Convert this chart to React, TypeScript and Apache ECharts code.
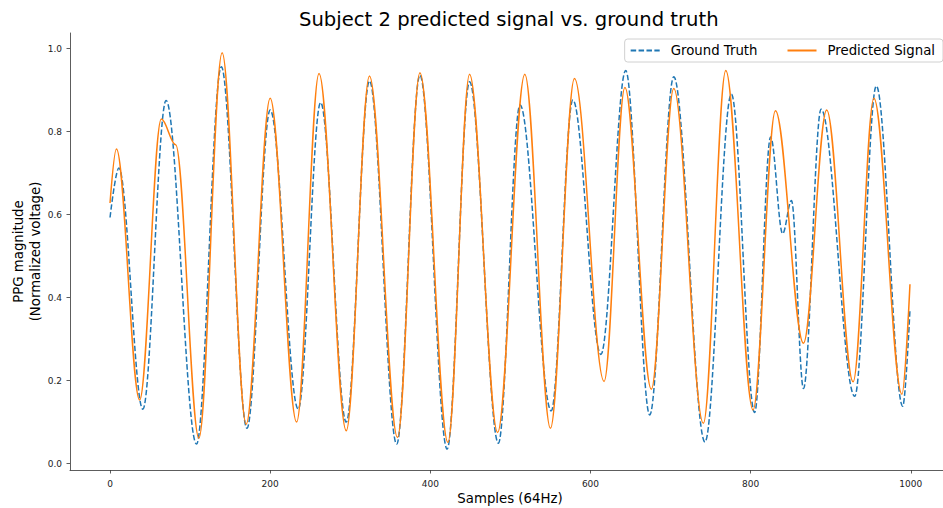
import React, { useEffect, useRef } from "react";
import * as echarts from "echarts";

// Ground truth extrema
const gtX = [0, 11, 41, 70, 108, 139, 171, 200, 235, 263, 295, 324, 358, 387, 421, 449, 485, 512, 551, 578, 613, 644, 674, 704, 743, 776, 805, 825, 840, 851, 866, 888, 930, 957, 990, 999];
const gtY = [0.593, 0.712, 0.131, 0.875, 0.047, 0.956, 0.085, 0.852, 0.131, 0.87, 0.1, 0.922, 0.047, 0.936, 0.035, 0.92, 0.049, 0.864, 0.127, 0.876, 0.263, 0.947, 0.117, 0.932, 0.052, 0.89, 0.123, 0.787, 0.554, 0.634, 0.181, 0.854, 0.162, 0.91, 0.138, 0.371];

// Predicted signal extrema
const predX = [0, 8, 37, 64, 82, 111, 140, 170, 200, 233, 261, 295, 324, 359, 387, 422, 449, 484, 518, 550, 580, 617, 643, 676, 704, 741, 769, 803, 831, 866, 895, 928, 954, 989, 999];
const predY = [0.628, 0.758, 0.153, 0.83, 0.768, 0.061, 0.99, 0.095, 0.88, 0.1, 0.94, 0.079, 0.934, 0.063, 0.942, 0.051, 0.938, 0.075, 0.938, 0.085, 0.928, 0.198, 0.906, 0.179, 0.904, 0.097, 0.947, 0.129, 0.85, 0.29, 0.852, 0.197, 0.88, 0.167, 0.432];

const xTicks = [0, 200, 400, 600, 800, 1000];
const yTicks = [0, 0.2, 0.4, 0.6, 0.8, 1.0];

const seriesNames = ["Ground Truth", "Predicted Signal"];
const titleText = "Subject 2 predicted signal vs. ground truth";
const xName = "Samples (64Hz)";
const yName = "PPG magnitude\n(Normalized voltage)";

const FONT = "DejaVu Sans";

export default function App() {
  const ref = useRef<HTMLDivElement>(null);
  useEffect(() => {
    if (!ref.current) return;
    const chart = echarts.init(ref.current, undefined, { renderer: "svg" });
    const gtData = gtX.map((x, i) => [x, gtY[i]]);
    const predData = predX.map((x, i) => [x, predY[i]]);
    chart.setOption({
      animation: false,
      backgroundColor: "#ffffff",
      textStyle: { fontFamily: FONT },
      title: {
        text: titleText,
        left: 299,
        top: 9,
        padding: 0,
        textStyle: { fontFamily: FONT, fontSize: 19.6, fontWeight: "normal", color: "#000" },
      },
      legend: {
        right: 0,
        top: 39,
        padding: [5, 8, 5, 5],
        itemWidth: 29,
        itemHeight: 14,
        itemGap: 29,
        borderColor: "#d0d0d0",
        borderWidth: 1,
        borderRadius: 3,
        backgroundColor: "rgba(255,255,255,0.8)",
        itemStyle: { opacity: 0 },
        textStyle: { fontFamily: FONT, fontSize: 13.3, color: "#000", padding: [0, 0, 0, 6] },
        data: seriesNames,
      },
      grid: {
        left: 70,
        top: 33,
        width: 880,
        height: 437,
        containLabel: false,
        outerBoundsMode: "none",
      },
      xAxis: {
        type: "value",
        min: -50,
        max: 1049,
        name: xName,
        nameLocation: "middle",
        nameGap: 22,
        nameMoveOverlap: false,
        nameTextStyle: { fontFamily: FONT, fontSize: 13.3, color: "#000" },
        axisLine: { show: true, onZero: false, lineStyle: { color: "#333", width: 0.8 } },
        axisTick: { show: true, length: 3.5, lineStyle: { color: "#333", width: 0.8 }, customValues: xTicks },
        axisLabel: {
          fontFamily: FONT,
          fontSize: 9,
          color: "#222",
          margin: 9,
          customValues: xTicks,
          formatter: (v: number) => String(v),
        },
        splitLine: { show: false },
      },
      yAxis: {
        type: "value",
        min: -0.0155,
        max: 1.0375,
        name: yName,
        nameLocation: "middle",
        nameRotate: 90,
        nameGap: 26,
        nameMoveOverlap: false,
        nameTextStyle: { fontFamily: FONT, fontSize: 13.3, color: "#000", lineHeight: 17 },
        axisLine: { show: true, onZero: false, lineStyle: { color: "#333", width: 0.8 } },
        axisTick: { show: true, length: 3.5, lineStyle: { color: "#333", width: 0.8 }, customValues: yTicks },
        axisLabel: {
          fontFamily: FONT,
          fontSize: 9,
          color: "#222",
          margin: 8,
          customValues: yTicks,
          formatter: (v: number) => v.toFixed(1),
        },
        splitLine: { show: false },
      },
      series: [
        {
          name: seriesNames[0],
          type: "line",
          data: gtData,
          symbol: "none",
          smooth: 0.35,
          smoothMonotone: "x",
          lineStyle: { color: "#1f77b4", width: 1.5, type: [5.5, 2.4] },
          itemStyle: { color: "#1f77b4" },
        },
        {
          name: seriesNames[1],
          type: "line",
          data: predData,
          symbol: "none",
          smooth: 0.35,
          smoothMonotone: "x",
          lineStyle: { color: "#ff7f0e", width: 1.5 },
          itemStyle: { color: "#ff7f0e" },
        },
      ],
    });
    return () => chart.dispose();
  }, []);
  return (
    <div
      ref={ref}
      style={{ position: "absolute", left: 0, top: 0, width: 943, height: 508 }}
    />
  );
}
